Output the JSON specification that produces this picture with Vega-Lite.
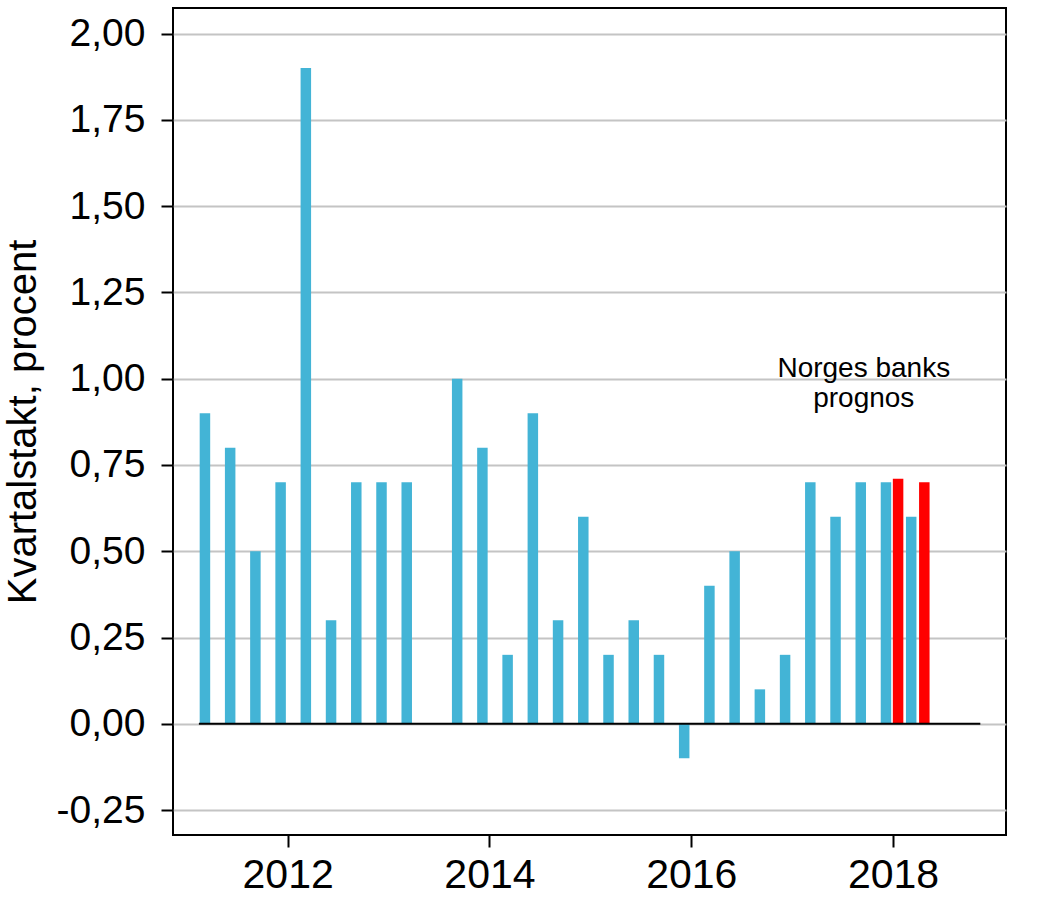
{
  "$schema": "https://vega.github.io/schema/vega-lite/v6.json",
  "width": 833,
  "height": 827,
  "autosize": {"type": "none"},
  "padding": {"left": 173, "top": 8, "right": 31, "bottom": 63},
  "background": "white",
  "config": {
    "font": "Liberation Sans",
    "view": {"stroke": "black", "strokeWidth": 2}
  },
  "datasets": {
    "bars": [
      {"t": 2011.18, "v": 0.9, "serie": "Utfall"},
      {"t": 2011.43, "v": 0.8, "serie": "Utfall"},
      {"t": 2011.68, "v": 0.5, "serie": "Utfall"},
      {"t": 2011.93, "v": 0.7, "serie": "Utfall"},
      {"t": 2012.18, "v": 1.9, "serie": "Utfall"},
      {"t": 2012.43, "v": 0.3, "serie": "Utfall"},
      {"t": 2012.68, "v": 0.7, "serie": "Utfall"},
      {"t": 2012.93, "v": 0.7, "serie": "Utfall"},
      {"t": 2013.18, "v": 0.7, "serie": "Utfall"},
      {"t": 2013.68, "v": 1.0, "serie": "Utfall"},
      {"t": 2013.93, "v": 0.8, "serie": "Utfall"},
      {"t": 2014.18, "v": 0.2, "serie": "Utfall"},
      {"t": 2014.43, "v": 0.9, "serie": "Utfall"},
      {"t": 2014.68, "v": 0.3, "serie": "Utfall"},
      {"t": 2014.93, "v": 0.6, "serie": "Utfall"},
      {"t": 2015.18, "v": 0.2, "serie": "Utfall"},
      {"t": 2015.43, "v": 0.3, "serie": "Utfall"},
      {"t": 2015.68, "v": 0.2, "serie": "Utfall"},
      {"t": 2015.93, "v": -0.1, "serie": "Utfall"},
      {"t": 2016.18, "v": 0.4, "serie": "Utfall"},
      {"t": 2016.43, "v": 0.5, "serie": "Utfall"},
      {"t": 2016.68, "v": 0.1, "serie": "Utfall"},
      {"t": 2016.93, "v": 0.2, "serie": "Utfall"},
      {"t": 2017.18, "v": 0.7, "serie": "Utfall"},
      {"t": 2017.43, "v": 0.6, "serie": "Utfall"},
      {"t": 2017.68, "v": 0.7, "serie": "Utfall"},
      {"t": 2017.93, "v": 0.7, "serie": "Utfall"},
      {"t": 2018.18, "v": 0.6, "serie": "Utfall"},
      {"t": 2018.05, "v": 0.71, "serie": "Norges banks prognos"},
      {"t": 2018.31, "v": 0.7, "serie": "Norges banks prognos"}
    ],
    "zero": [{"t0": 2011.12, "t1": 2018.865, "v": 0}],
    "notes": [
      {"t": 2017.71, "v": 1.005, "label": "Norges banks"},
      {"t": 2017.71, "v": 0.918, "label": "prognos"}
    ]
  },
  "layer": [
    {
      "data": {"name": "bars"},
      "mark": {"type": "bar", "width": 10.5},
      "encoding": {
        "x": {
          "field": "t",
          "type": "quantitative",
          "scale": {"domain": [2010.913, 2019.07], "nice": false, "zero": false},
          "axis": {
            "values": [2012, 2014, 2016, 2018],
            "format": "d",
            "title": null,
            "grid": false,
            "domain": false,
            "tickColor": "black",
            "tickWidth": 2,
            "tickSize": 12,
            "labelFontSize": 41,
            "labelColor": "black",
            "labelPadding": 8
          }
        },
        "y": {
          "field": "v",
          "type": "quantitative",
          "scale": {"domain": [-0.322, 2.074], "nice": false, "zero": false},
          "axis": {
            "values": [-0.25, 0, 0.25, 0.5, 0.75, 1, 1.25, 1.5, 1.75, 2],
            "labelExpr": "(datum.value < 0 ? '-' : '') + replace(format(abs(datum.value), '.2f'), '.', ',')",
            "title": "Kvartalstakt, procent",
            "titleFontSize": 40,
            "titleFontWeight": "normal",
            "titleColor": "black",
            "titlePadding": 13,
            "grid": true,
            "gridColor": "#C4C4C4",
            "gridWidth": 2,
            "domain": false,
            "tickColor": "black",
            "tickWidth": 2,
            "tickSize": 12,
            "labelFontSize": 39,
            "labelColor": "black",
            "labelPadding": 16
          }
        },
        "color": {
          "field": "serie",
          "type": "nominal",
          "scale": {"domain": ["Utfall", "Norges banks prognos"], "range": ["#43B4D6", "#FF0000"]},
          "legend": null
        }
      }
    },
    {
      "data": {"name": "zero"},
      "mark": {"type": "rule", "color": "black", "strokeWidth": 2},
      "encoding": {
        "x": {"field": "t0", "type": "quantitative"},
        "x2": {"field": "t1"},
        "y": {"field": "v", "type": "quantitative"}
      }
    },
    {
      "data": {"name": "notes"},
      "mark": {"type": "text", "fontSize": 28, "align": "center", "baseline": "alphabetic", "color": "black"},
      "encoding": {
        "x": {"field": "t", "type": "quantitative"},
        "y": {"field": "v", "type": "quantitative"},
        "text": {"field": "label"}
      }
    }
  ]
}
